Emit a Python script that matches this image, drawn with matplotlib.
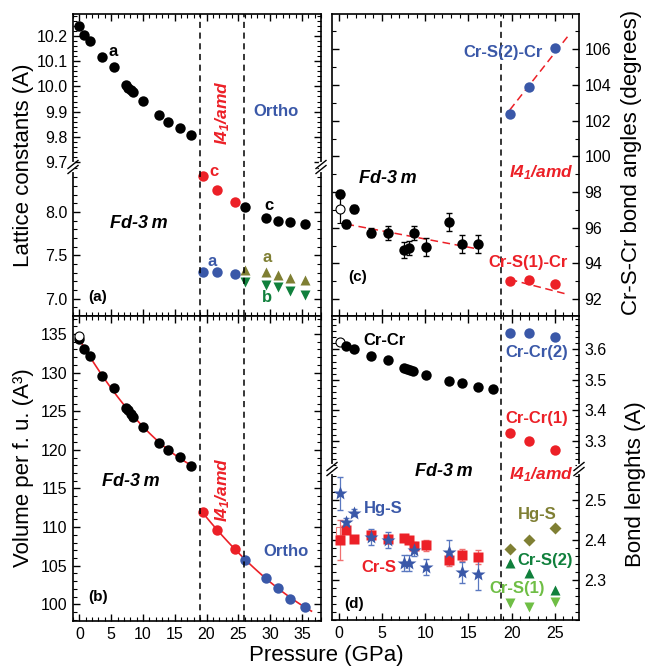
import numpy as np
import matplotlib
matplotlib.use('Agg')
import matplotlib.pyplot as plt
from matplotlib.ticker import MultipleLocator, FixedLocator, FormatStrFormatter
from matplotlib.lines import Line2D

plt.rcParams['font.family'] = ['Liberation Sans', 'DejaVu Sans']
plt.rcParams['mathtext.fontset'] = 'custom'
plt.rcParams['mathtext.it'] = 'Liberation Sans:italic:bold'
plt.rcParams['mathtext.rm'] = 'Liberation Sans:italic:bold'
plt.rcParams['mathtext.bf'] = 'Liberation Sans:italic:bold'

# ---------------- data ----------------
# left panels (a), (b): cubic phase
P_cub_left = [0, 0.77, 1.68, 3.57, 5.5, 7.35, 7.72, 8.14, 8.5, 9.97, 12.5, 13.93, 15.85, 17.63]
a_cub = [10.238, 10.203, 10.180, 10.117, 10.075, 10.005, 9.995, 9.985, 9.977, 9.942, 9.887, 9.860, 9.836, 9.808]
V_cub = [134.3, 133.0, 132.15, 129.6, 128.0, 125.4, 125.1, 124.6, 124.3, 122.9, 120.9, 120.0, 119.1, 117.95]
P_open_left = [0.0]
V_open = [134.8]
# tetragonal I41/amd
P_tet_left = [19.4, 21.6, 24.5]
c_tet = [8.414, 8.253, 8.119]
a_tet = [7.310, 7.303, 7.280]
V_tet = [111.9, 109.6, 107.2]
# orthorhombic
P_ort = [26.1, 29.3, 31.3, 33.05, 35.5]
c_ort = [8.054, 7.927, 7.897, 7.881, 7.858]
a_ort = [7.326, 7.303, 7.272, 7.238, 7.218]
b_ort = [7.188, 7.161, 7.134, 7.084, 7.046]
V_ort = [105.7, 103.45, 102.15, 100.7, 99.7]
trans_left = [18.9, 25.9]

# right panels (c), (d)
P_bond = [0.1, 0.81, 1.77, 3.7, 5.71, 7.52, 8.1, 8.68, 10.15, 12.73, 14.27, 16.12]
ang_cub = [97.89, 96.21, 97.05, 95.72, 95.69, 94.75, 94.85, 95.72, 94.90, 96.30, 95.09, 95.09]
ang_err = [0.2, 0.24, 0.23, 0.26, 0.4, 0.44, 0.4, 0.4, 0.5, 0.5, 0.5, 0.5]
ang_open = [97.05]
ang_open_err = [0.8]
P_open_right = [0.1]
HgS_cub = [2.517, 2.445, 2.469, 2.408, 2.400, 2.343, 2.343, 2.375, 2.333, 2.371, 2.319, 2.315]
HgS_err = [0.042, 0.01, 0.008, 0.02, 0.02, 0.02, 0.02, 0.015, 0.02, 0.03, 0.026, 0.04]
CrS_cub = [2.400, 2.425, 2.403, 2.4125, 2.404, 2.406, 2.400, 2.385, 2.3875, 2.350, 2.3625, 2.358]
CrS_err = [0.05, 0.006, 0.006, 0.01, 0.008, 0.006, 0.008, 0.01, 0.014, 0.014, 0.015, 0.018]
CrS_open = [2.422]
P_crcr = [0.81, 1.77, 3.7, 5.71, 7.52, 7.91, 8.3, 8.6, 10.15, 12.73, 14.27, 16.12, 17.9]
CrCr_cub = [3.611, 3.601, 3.579, 3.564, 3.540, 3.536, 3.532, 3.529, 3.516, 3.496, 3.489, 3.478, 3.469]
CrCr_open = [3.625]

P_tet_right = [19.8, 22.0, 25.05]
ang_S2 = [102.36, 103.9, 106.09]
ang_S1 = [93.01, 93.07, 92.84]
CrCr2 = [3.652, 3.652, 3.641]
CrCr1 = [3.325, 3.300, 3.271]
HgS_tet = [2.377, 2.400, 2.431]
CrS2_tet = [2.343, 2.317, 2.275]
CrS1_tet = [2.242, 2.232, 2.246]
CrS_tet_err = [0.008, 0.008, 0.008]
trans_right = 18.75

# guide lines in (c) (end points)
guide_cub_x = [0.89, 15.74]
guide_cub_y = [96.2, 94.84]
guide_S1_x = [19.79, 26.35]
guide_S1_y = [93.1, 92.28]
guide_S2_x = [19.79, 26.54]
guide_S2_y = [102.6, 106.75]

# tick values
yt_a_top = [9.7, 9.8, 9.9, 10.0, 10.1, 10.2]
yt_a_bot = [7.0, 7.5, 8.0]
yt_d_top = [3.3, 3.4, 3.5, 3.6]
yt_d_bot = [2.3, 2.4, 2.5]

# ---------------- style ----------------
RED = '#ec2027'
BLUE = '#3a58a8'
OLIVE = '#7f7f33'
GREEN = '#10803c'
LGREEN = '#6fbe45'
BLACK = 'black'

W, H = 649, 666
fig = plt.figure(figsize=(W / 100, H / 100), dpi=100)


def rect(x0, y0, x1, y1):
    return [x0 / W, 1 - y1 / H, (x1 - x0) / W, (y1 - y0) / H]


def style(ax, xlim, ylim, ymaj, ymin, xlabels=False, yright=False, fmt=None,
          show_top=True, show_bottom=True, yticks=None):
    ax.set_xlim(*xlim)
    ax.set_ylim(*ylim)
    ax.xaxis.set_major_locator(MultipleLocator(5))
    ax.xaxis.set_minor_locator(MultipleLocator(1))
    if yticks is not None:
        ax.yaxis.set_major_locator(FixedLocator(yticks))
    else:
        ax.yaxis.set_major_locator(MultipleLocator(ymaj))
    ax.yaxis.set_minor_locator(MultipleLocator(ymin))
    if fmt:
        ax.yaxis.set_major_formatter(FormatStrFormatter(fmt))
    ax.tick_params(which='both', direction='in', top=show_top, bottom=show_bottom,
                   left=True, right=True, labelsize=11.5, pad=4)
    ax.tick_params(which='major', length=5, width=1)
    ax.tick_params(which='minor', length=2.6, width=0.8)
    ax.tick_params(axis='x', labelbottom=xlabels)
    if yright:
        ax.tick_params(axis='y', labelleft=False, labelright=True)
    for s in ax.spines.values():
        s.set_linewidth(1.2)
    if not show_top:
        ax.spines['top'].set_visible(False)
    if not show_bottom:
        ax.spines['bottom'].set_visible(False)


MS = 7.5
kw = dict(ls='none', marker='o', ms=MS, mec='none')
DASH = (0, (4, 3))

# ---------------- panel (a) ----------------
xl_left = (-1.0, 38.0)
a_top = fig.add_axes(rect(73, 14, 321, 167))
a_bot = fig.add_axes(rect(73, 167, 321, 316))
style(a_top, xl_left, (9.681, 10.286), 0.1, 0.02, fmt='%.1f', show_bottom=False, yticks=yt_a_top)
style(a_bot, xl_left, (6.80, 8.517), 0.5, 0.1, fmt='%.1f', show_top=False, yticks=yt_a_bot)
a_top.plot(P_cub_left, a_cub, color=BLACK, **kw)
a_bot.plot(P_tet_left, c_tet, color=RED, **kw)
a_bot.plot(P_tet_left, a_tet, color=BLUE, **kw)
a_bot.plot(P_ort, c_ort, color=BLACK, **kw)
a_bot.plot(P_ort, a_ort, ls='none', marker='^', ms=MS, color=OLIVE, mec='none')
a_bot.plot(P_ort, b_ort, ls='none', marker='v', ms=MS, color=GREEN, mec='none')
for ax in (a_top, a_bot):
    for xv in trans_left:
        ax.axvline(xv, color='black', ls=DASH, lw=1.1)

# ---------------- panel (b) ----------------
b = fig.add_axes(rect(73, 316, 321, 621))
style(b, xl_left, (97.84, 137.33), 5, 1, xlabels=True)
fit1 = np.polyfit(P_cub_left, V_cub, 2)
xx1 = np.linspace(min(P_cub_left), max(P_cub_left) + 0.5, 100)
b.plot(xx1, np.polyval(fit1, xx1), color=RED, lw=1.2)
Phigh = P_tet_left + P_ort
Vhigh = V_tet + V_ort
fit2 = np.polyfit(Phigh, Vhigh, 2)
xx2 = np.linspace(min(Phigh), max(Phigh) + 1.0, 100)
b.plot(xx2, np.polyval(fit2, xx2), color=RED, lw=1.2)
b.plot(P_cub_left, V_cub, color=BLACK, **kw)
b.plot(P_open_left, V_open, ls='none', marker='o', ms=MS - 1, mfc='white', mec='black', mew=0.8)
b.plot(P_tet_left, V_tet, color=RED, **kw)
b.plot(P_ort, V_ort, color=BLUE, **kw)
for xv in trans_left:
    b.axvline(xv, color='black', ls=DASH, lw=1.1)

# ---------------- panel (c) ----------------
xl_right = (-0.78, 27.8)
c = fig.add_axes(rect(332, 14, 579, 316))
style(c, xl_right, (91.05, 107.98), 2, 1, yright=True)
c.plot(guide_cub_x, guide_cub_y, color=RED, ls=(0, (5, 3)), lw=1.1)
c.plot(guide_S1_x, guide_S1_y, color=RED, ls=(0, (5, 3)), lw=1.1)
c.plot(guide_S2_x, guide_S2_y, color=RED, ls=(0, (5, 3)), lw=1.1)
c.errorbar(P_open_right, ang_open, yerr=ang_open_err, fmt='o', ms=MS - 1, mfc='white', mec='black',
           mew=0.8, ecolor='black', elinewidth=0.9, capsize=2.5)
c.errorbar(P_bond, ang_cub, yerr=ang_err, fmt='o', ms=MS, color=BLACK, mec='none',
           ecolor='black', elinewidth=0.9, capsize=2.5)
c.plot(P_tet_right, ang_S2, color=BLUE, **kw)
c.plot(P_tet_right, ang_S1, color=RED, **kw)
c.axvline(trans_right, color='black', ls=DASH, lw=1.1)

# ---------------- panel (d) ----------------
d_top = fig.add_axes(rect(332, 316, 579, 469))
d_bot = fig.add_axes(rect(332, 469, 579, 620))
style(d_top, xl_right, (3.208, 3.709), 0.1, 0.02, yright=True, fmt='%.1f', show_bottom=False,
      yticks=yt_d_top)
style(d_bot, xl_right, (2.2, 2.578), 0.1, 0.02, yright=True, fmt='%.1f', show_top=False,
      xlabels=True, yticks=yt_d_bot)
d_top.plot(P_open_right, CrCr_open, ls='none', marker='o', ms=MS - 1, mfc='white', mec='black', mew=0.8)
d_top.plot(P_crcr, CrCr_cub, color=BLACK, **kw)
d_top.plot(P_tet_right, CrCr2, color=BLUE, **kw)
d_top.plot(P_tet_right, CrCr1, color=RED, **kw)
d_bot.plot(P_open_right, CrS_open, ls='none', marker='s', ms=MS - 1.5, mfc='none', mec='#f08080', mew=0.8)
d_bot.errorbar(P_bond, CrS_cub, yerr=CrS_err, fmt='s', ms=MS - 0.5, color=RED, mec='none',
               ecolor='#f07070', elinewidth=0.9, capsize=2.5)
d_bot.errorbar(P_bond, HgS_cub, yerr=HgS_err, fmt='*', ms=MS + 3, color=BLUE, mec='none',
               ecolor='#5a78c0', elinewidth=0.9, capsize=2.5)
d_bot.plot(P_tet_right, HgS_tet, ls='none', marker='D', ms=MS - 1.5, color=OLIVE, mec='none')
d_bot.errorbar(P_tet_right, CrS2_tet, yerr=CrS_tet_err, fmt='^', ms=MS, color=GREEN, mec='none',
               ecolor=GREEN, elinewidth=0.9, capsize=0)
d_bot.errorbar(P_tet_right, CrS1_tet, yerr=CrS_tet_err, fmt='v', ms=MS, color=LGREEN, mec='none',
               ecolor=LGREEN, elinewidth=0.9, capsize=0)
for ax in (d_top, d_bot):
    ax.axvline(trans_right, color='black', ls=DASH, lw=1.1)


# ---------------- break marks ----------------
def brk(cx, cy):
    fig.add_artist(Line2D([cx / W, cx / W], [1 - (cy - 3) / H, 1 - (cy + 3) / H],
                          transform=fig.transFigure, color='white', lw=3, zorder=10))
    for off in (-2.5, 2.5):
        fig.add_artist(Line2D([(cx - 5) / W, (cx + 5) / W],
                              [1 - (cy + off + 4) / H, 1 - (cy + off - 4) / H],
                              transform=fig.transFigure, color='black', lw=1.0, zorder=11))


brk(73, 167)
brk(321, 167)
brk(332, 469)
brk(579, 469)


# ---------------- texts ----------------
def t(x, y, s, color='black', size=12, weight='bold', style='normal', rot=0, ha='center'):
    fig.text(x / W, 1 - y / H, s, color=color, fontsize=size, fontweight=weight,
             fontstyle=style, rotation=rot, ha=ha, va='center')


I41 = r'$I4_1/amd$'
FD = 'Fd-3\u2009m'

# (a)
t(113, 52, 'a')
t(276, 111, 'Ortho', BLUE)
t(223, 113, I41, RED, size=12.5, rot=90)
t(214, 172, 'c', RED)
t(269, 206, 'c')
t(139, 224, FD, size=13, style='italic')
t(212, 261, 'a', BLUE)
t(267, 258, 'a', OLIVE)
t(267, 297, 'b', GREEN)
t(98, 297, '(a)', size=11)
# (b)
t(131, 481, FD, size=13, style='italic')
t(223, 490, I41, RED, size=12.5, rot=90)
t(286, 551, 'Ortho', BLUE)
t(98, 597, '(b)', size=11)
# (c)
t(503, 53, 'Cr-S(2)-Cr', BLUE)
t(388, 178, FD, size=13, style='italic')
t(541, 173, I41, RED, size=12.5)
t(528, 263, 'Cr-S(1)-Cr', RED)
t(358, 277, '(c)', size=11)
# (d)
t(384, 341, 'Cr-Cr')
t(537, 353, 'Cr-Cr(2)', BLUE)
t(537, 419, 'Cr-Cr(1)', RED)
t(444, 471, FD, size=13, style='italic')
t(541, 475, I41, RED, size=12.5)
t(383, 509, 'Hg-S', BLUE)
t(379, 567, 'Cr-S', RED)
t(537, 515, 'Hg-S', OLIVE)
t(545, 560, 'Cr-S(2)', GREEN)
t(517, 588, 'Cr-S(1)', LGREEN)
t(354, 604, '(d)', size=11)

# axis labels
t(24, 165, 'Lattice constants (A)', size=16, weight='normal', rot=90)
t(24, 468, 'Volume per f. u. (A\u00b3)', size=16, weight='normal', rot=90)
t(632, 162, 'Cr-S-Cr bond angles (degrees)', size=16, weight='normal', rot=90)
t(635, 484, 'Bond lenghts (A)', size=16, weight='normal', rot=90)
t(326, 655, 'Pressure (GPa)', size=16, weight='normal')

fig.savefig('out.png', dpi=100)
